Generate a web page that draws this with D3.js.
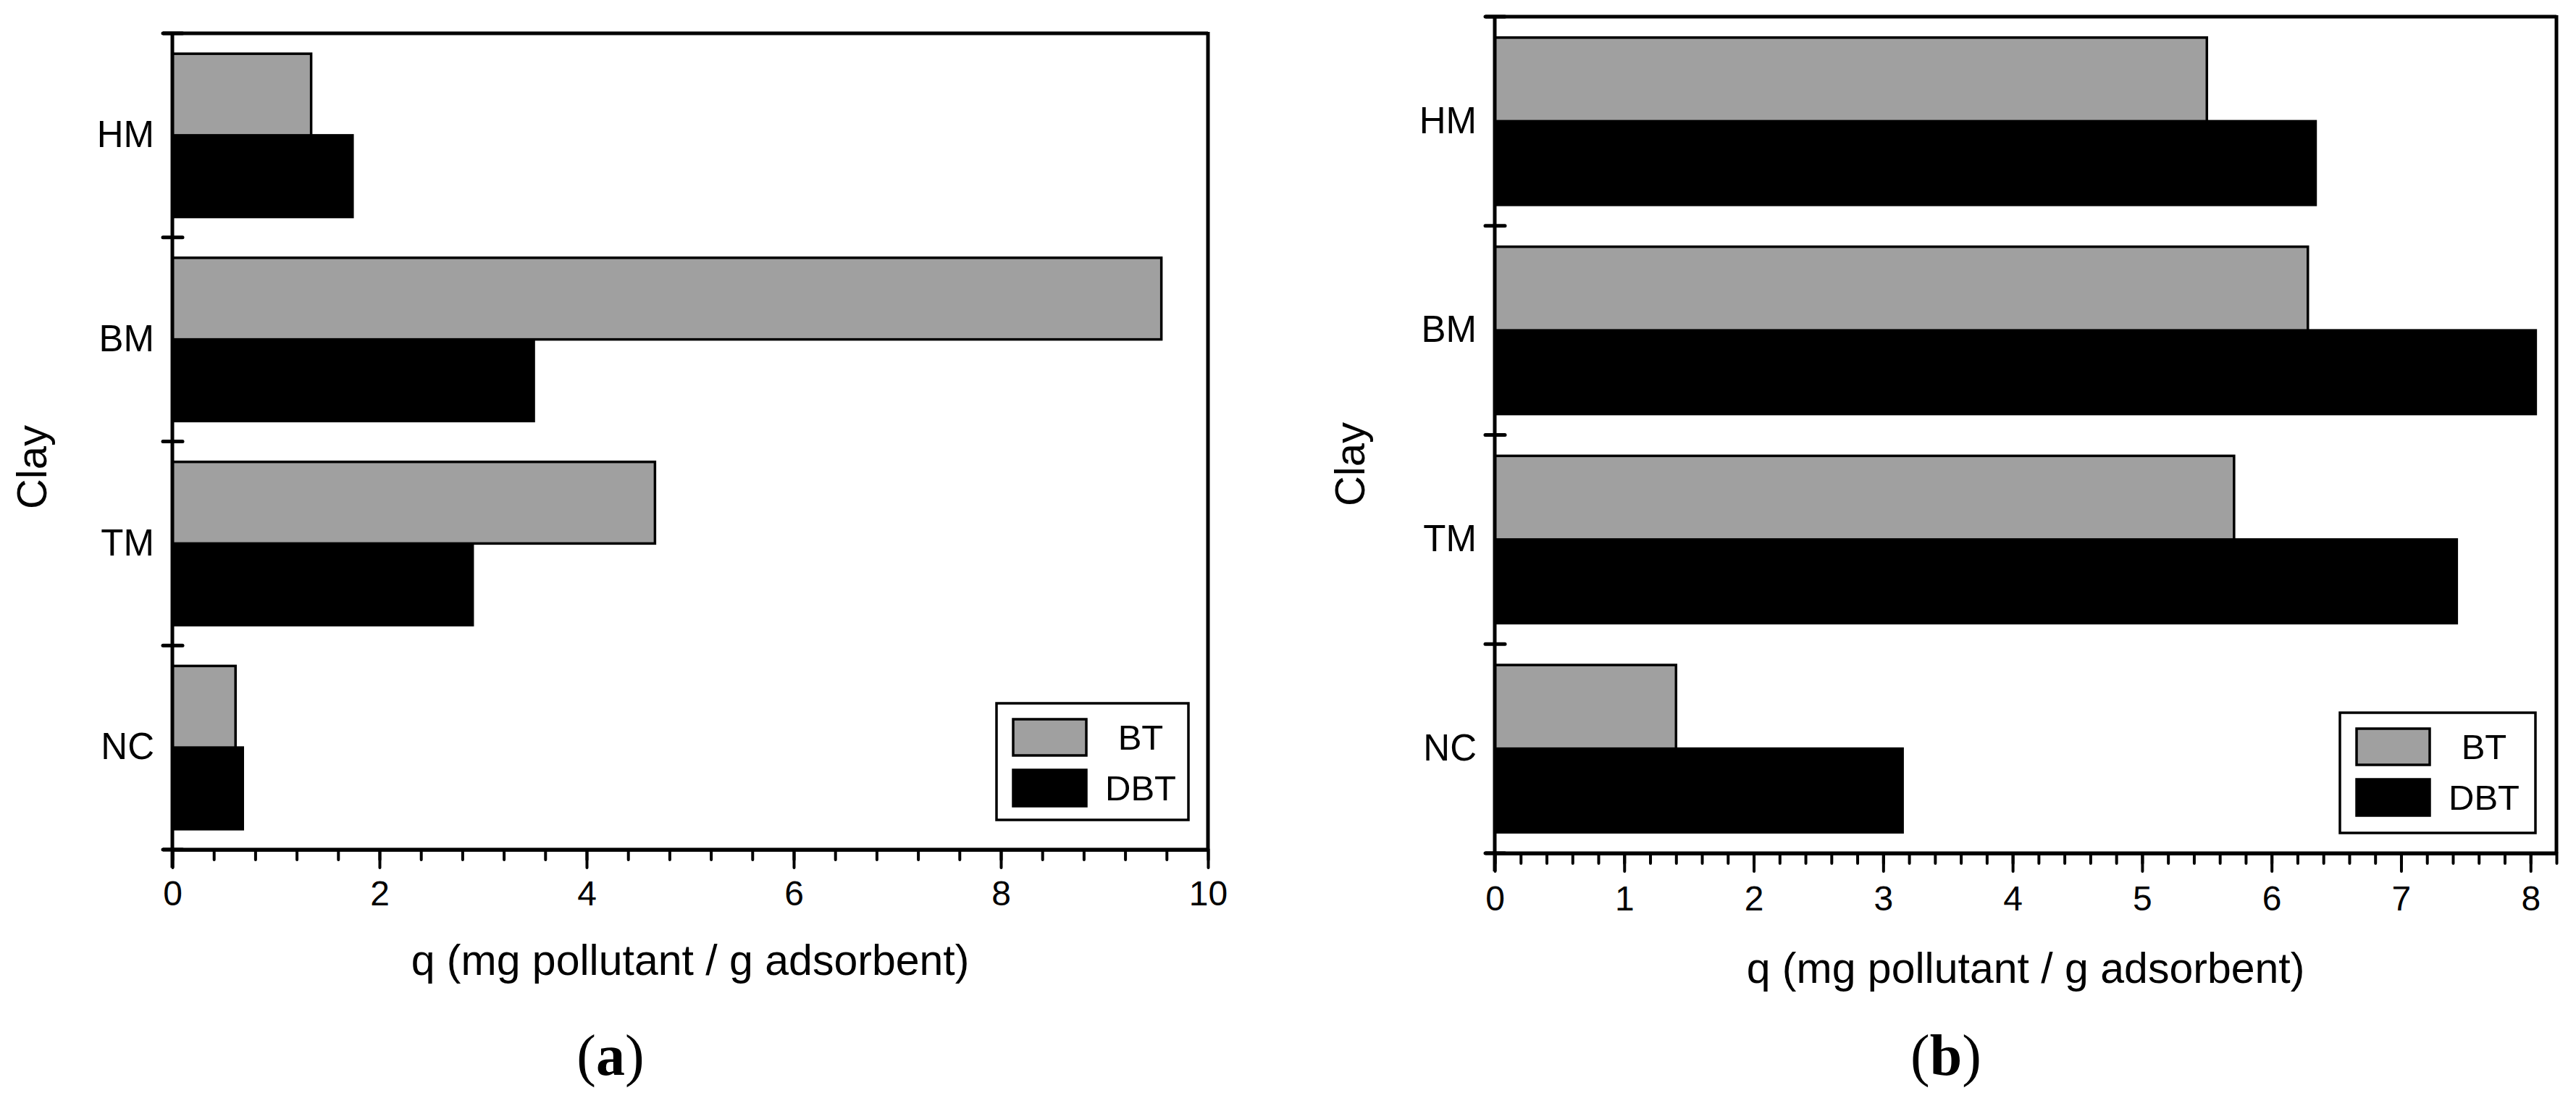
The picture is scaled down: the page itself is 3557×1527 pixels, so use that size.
<!DOCTYPE html>
<html>
<head>
<meta charset="utf-8">
<script src="https://cdn.jsdelivr.net/npm/d3@7"></script>
<style>
  body { margin: 0; background: #fff; }
  text { font-family: "Liberation Sans", Arial, sans-serif; fill: #000; }
</style>
</head>
<body>
<div id="chart"></div>
<script>
// data
const categories = ["HM", "BM", "TM", "NC"];
const seriesNames = ["BT", "DBT"];
const btA = [1.34, 9.55, 4.66, 0.61];
const dbtA = [1.74, 3.49, 2.90, 0.68];
const btB = [5.50, 6.28, 5.71, 1.40];
const dbtB = [6.34, 8.04, 7.43, 3.15];
const majorTicksA = [0, 2, 4, 6, 8, 10];
const majorTicksB = [0, 1, 2, 3, 4, 5, 6, 7, 8];
const xTitle = "q (mg pollutant / g adsorbent)";
const yTitle = "Clay";
const panelLabels = ["a", "b"];

const colors = { BT: "#a0a0a0", DBT: "#000" };

const svg = d3.select("#chart").append("svg")
  .attr("width", 3557)
  .attr("height", 1527);

const panels = [
  { bt: btA, dbt: dbtA, ticks: majorTicksA, xMax: 10, minorStep: 0.4,
    left: 238, right: 1668, top: 46, bottom: 1173,
    legend: { x: 1376, y: 971, w: 265, h: 161 },
    titleY: 1346, labelX: 843, clayX: 64, clayY: 645, tickY: 77, label: panelLabels[0] },
  { bt: btB, dbt: dbtB, ticks: majorTicksB, xMax: 8.2, minorStep: 0.2,
    left: 2064, right: 3530, top: 23, bottom: 1178,
    legend: { x: 3231, y: 984, w: 270, h: 166 },
    titleY: 1357, labelX: 2687, clayX: 1884, clayY: 641, tickY: 79, label: panelLabels[1] }
];

panels.forEach(p => {
  const rows = categories.map((c, i) => ({ cat: c, BT: p.bt[i], DBT: p.dbt[i] }));

  const x = d3.scaleLinear().domain([0, p.xMax]).range([p.left, p.right]);
  const y = d3.scaleBand().domain(categories).range([p.top, p.bottom])
    .paddingInner(0.2).paddingOuter(0.1);
  const yIn = d3.scaleBand().domain(seriesNames).range([0, y.bandwidth()]);

  const g = svg.append("g");

  // bars, black first so the grey outline sits on top
  ["DBT", "BT"].forEach(s => {
    g.selectAll(".bar-" + s)
      .data(rows)
      .enter().append("rect")
      .attr("x", x(0))
      .attr("y", d => y(d.cat) + yIn(s))
      .attr("width", d => x(d[s]) - x(0))
      .attr("height", yIn.bandwidth())
      .attr("fill", colors[s])
      .attr("stroke", "#000")
      .attr("stroke-width", 3.5);
  });

  // minor x ticks
  const minorVals = d3.range(0, p.xMax + 1e-6, p.minorStep);
  g.append("g")
    .attr("transform", `translate(0,${p.bottom})`)
    .call(d3.axisBottom(x).tickValues(minorVals).tickSize(14).tickFormat(""))
    .call(a => a.select(".domain").remove())
    .call(a => a.selectAll("line").attr("stroke-width", 4).attr("stroke-linecap", "round"));

  // major x ticks
  const xAxis = g.append("g")
    .attr("transform", `translate(0,${p.bottom})`)
    .call(d3.axisBottom(x).tickValues(p.ticks).tickSize(25).tickSizeOuter(0).tickFormat(d3.format("d")));
  xAxis.select(".domain").attr("stroke-width", 5);
  xAxis.selectAll("line").attr("stroke-width", 4).attr("stroke-linecap", "round");
  xAxis.selectAll("text")
    .attr("y", p.tickY).attr("dy", null)
    .style("font-family", "'Liberation Sans', Arial, sans-serif")
    .style("font-size", "48px");

  // x axis line extends left over the bottom category tick
  g.append("line")
    .attr("x1", p.left - 13).attr("x2", p.right)
    .attr("y1", p.bottom).attr("y2", p.bottom)
    .attr("stroke", "#000").attr("stroke-width", 5);

  // y axis with category labels
  const yAxis = g.append("g")
    .attr("transform", `translate(${p.left},0)`)
    .call(d3.axisLeft(y).tickSize(0).tickPadding(25));
  yAxis.select(".domain").remove();
  yAxis.selectAll("text")
    .style("font-family", "'Liberation Sans', Arial, sans-serif")
    .style("font-size", "51px");

  g.append("line")
    .attr("x1", p.left).attr("x2", p.left)
    .attr("y1", p.top).attr("y2", p.bottom + 25)
    .attr("stroke", "#000").attr("stroke-width", 5);

  // category boundary ticks crossing the y axis
  const bounds = categories.map(c => y(c) - y.step() * y.paddingInner() / 2)
    .concat([p.bottom]);
  g.selectAll(".ybound")
    .data(bounds)
    .enter().append("line")
    .attr("x1", p.left - 13).attr("x2", p.left + 14)
    .attr("y1", d => d).attr("y2", d => d)
    .attr("stroke", "#000").attr("stroke-width", 5).attr("stroke-linecap", "round");

  // top and right frame
  g.append("line")
    .attr("x1", p.left - 13).attr("x2", p.right)
    .attr("y1", p.top).attr("y2", p.top)
    .attr("stroke", "#000").attr("stroke-width", 5);
  g.append("line")
    .attr("x1", p.right).attr("x2", p.right)
    .attr("y1", p.top - 2).attr("y2", p.bottom)
    .attr("stroke", "#000").attr("stroke-width", 5);

  // axis titles
  g.append("text")
    .attr("x", (p.left + p.right) / 2)
    .attr("y", p.titleY)
    .attr("text-anchor", "middle")
    .style("font-size", "59px")
    .text(xTitle);

  g.append("text")
    .attr("transform", `translate(${p.clayX},${p.clayY}) rotate(-90)`)
    .attr("text-anchor", "middle")
    .style("font-size", "58px")
    .text(yTitle);

  // legend
  const L = p.legend;
  const lg = g.append("g").attr("transform", `translate(${L.x},${L.y})`);
  lg.append("rect")
    .attr("width", L.w).attr("height", L.h)
    .attr("fill", "#fff").attr("stroke", "#000").attr("stroke-width", 3.5);
  seriesNames.forEach((s, i) => {
    const sy = 22 + i * 70;
    lg.append("rect")
      .attr("x", 23).attr("y", sy)
      .attr("width", 101).attr("height", 50)
      .attr("fill", colors[s]).attr("stroke", "#000").attr("stroke-width", 3.5);
    lg.append("text")
      .attr("x", 199).attr("y", sy + 42)
      .attr("text-anchor", "middle")
      .style("font-size", "49px")
      .text(s);
  });

  // panel label, e.g. (a)
  const pl = g.append("text")
    .attr("x", p.labelX).attr("y", 1484)
    .attr("text-anchor", "middle")
    .style("font-family", "'Liberation Serif', 'Times New Roman', serif")
    .style("font-size", "80px");
  pl.append("tspan").text("(");
  pl.append("tspan").style("font-weight", "bold").text(p.label);
  pl.append("tspan").text(")");
});
</script>
</body>
</html>
